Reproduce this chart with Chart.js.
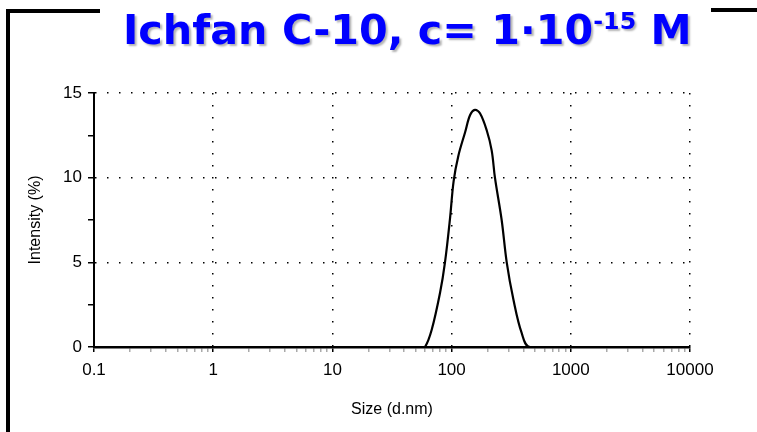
<!DOCTYPE html>
<html>
<head>
<meta charset="utf-8">
<title>Ichfan C-10</title>
<script src="https://cdn.jsdelivr.net/npm/chart.js@4"></script>
<style>
	body { margin:0; background:#fff; }
	#wrap { position:relative; width:757px; height:432px; overflow:hidden; }
	#myChart { position:absolute; left:0; top:0; }
	.frame { position:absolute; background:#000; }
	#title {
		position:absolute; left:123px; top:6px; white-space:nowrap;
		font-family:"Comic Sans MS","DejaVu Sans",sans-serif; font-weight:bold;
		font-size:40px; line-height:48px; color:#0000ff; text-shadow:2px 2px 2px rgba(0,0,0,0.3);
		transform-origin:left top;
	}
	#title sup { font-size:23px; vertical-align:0; position:relative; top:-15px; }
</style>
</head>
<body>
<div id="wrap">
	<canvas id="myChart" width="757" height="432"></canvas>
	<div class="frame" style="left:6px; top:9px; width:4px; height:423px;"></div>
	<div class="frame" style="left:6px; top:9px; width:94px; height:4px;"></div>
	<div class="frame" style="left:711px; top:8px; width:46px; height:4px;"></div>
	<div id="title">Ichfan C-10, c= 1·10<sup>-15</sup> M</div>
</div>

<script type="text/javascript">
	// size distribution
	let sizes     = [0.1, 55, 59.8, 68, 80, 88, 97, 104, 114, 130, 143, 157, 173, 197, 217, 231, 263, 290, 330, 387, 455, 10000]
	let intensity = [0,   0,  0,    1.0, 3.2, 5.0, 7.6, 9.8, 11.3, 12.7, 13.7, 14.0, 13.8, 12.8, 11.6, 10.0, 7.5, 5.0, 2.8, 0.83, 0, 0]

	let decades = [0.1, 1, 10, 100, 1000, 10000]
	let decadeLabels = ['0.1', '1', '10', '100', '1000', '10000']
	let yTicks = [0, 5, 10, 15]

	// fit the title width to the picture
	let t = document.getElementById('title')
	t.style.transform = 'scaleX(' + (569 / t.offsetWidth) + ')'

	let points = []
	for (let i = 0; i < sizes.length; i++) {
		points.push({x: sizes[i], y: intensity[i]})
	}

	function isDecade(v) {
		return decades.some(d => Math.abs(v - d) / d < 1e-6)
	}

	let ctx = document.getElementById('myChart')

	let myChart = new Chart(ctx, {
		type: 'scatter',
		data: {
			datasets: [{
				data: points,
				showLine: true,
				borderColor: '#000',
				borderWidth: 2.2,
				pointRadius: 0,
				tension: 0.35
			}]
		},
		options: {
			responsive: false,
			animation: false,
			layout: { padding: { top: 93, right: 67, left: 0, bottom: 0 } },
			plugins: { legend: { display: false }, tooltip: { enabled: false } },
			scales: {
				x: {
					type: 'logarithmic',
					min: 0.1,
					max: 10000,
					afterBuildTicks: function(scale) {
						let tks = []
						for (let d = 0; d < decades.length; d++) {
							if (d == decades.length - 1) { tks.push({value: decades[d]}); break }
							for (let m = 1; m < 10; m++) tks.push({value: decades[d] * m})
						}
						scale.ticks = tks
					},
					afterFit: function(scale) { scale.height = 85 },
					ticks: {
						autoSkip: false,
						maxRotation: 0,
						color: '#000',
						padding: 8,
						font: { family: 'Liberation Sans', size: 17 },
						callback: function(v) {
							let i = decades.findIndex(d => Math.abs(v - d) / d < 1e-6)
							return i >= 0 ? decadeLabels[i] : ''
						}
					},
					grid: {
						color: c => (c.tick && isDecade(c.tick.value) && c.tick.value > 0.1) ? '#000' : 'rgba(0,0,0,0)',
						lineWidth: 1.5,
						tickColor: c => (c.tick && isDecade(c.tick.value)) ? '#000' : '#aaa',
						tickLength: 5
					},
					border: { display: true, color: '#000', width: 2.5, dash: [1.5, 10.5] },
					title: {
						display: true,
						text: 'Size (d.nm)',
						color: '#000',
						font: { family: 'Liberation Sans', size: 16 },
						padding: { top: 0, bottom: 13 }
					}
				},
				y: {
					min: 0,
					max: 15,
					afterBuildTicks: function(scale) {
						let tks = []
						for (let v = 0; v <= 15; v += 2.5) tks.push({value: v})
						scale.ticks = tks
					},
					afterFit: function(scale) { scale.width = 94 },
					ticks: {
						color: '#000',
						padding: 6,
						font: { family: 'Liberation Sans', size: 17 },
						callback: v => yTicks.includes(v) ? String(v) : ''
					},
					grid: {
						color: c => (c.tick && yTicks.includes(c.tick.value) && c.tick.value > 0) ? '#000' : 'rgba(0,0,0,0)',
						lineWidth: 1.5,
						tickColor: '#000',
						tickLength: 6
					},
					border: { display: true, color: '#000', width: 2, dash: [1.5, 10.5] },
					title: {
						display: true,
						text: 'Intensity (%)',
						color: '#000',
						font: { family: 'Liberation Sans', size: 16 },
						padding: { top: 26, bottom: 0 }
					}
				}
			}
		}
	})
</script>
</body>
</html>
